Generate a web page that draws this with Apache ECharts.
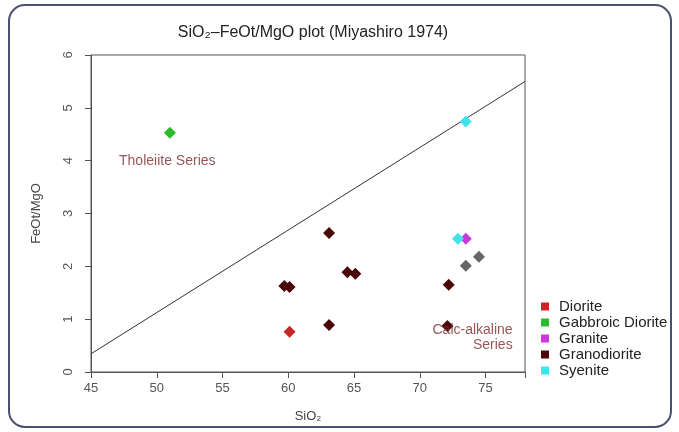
<!DOCTYPE html>
<html>
<head>
<meta charset="utf-8">
<script src="https://cdn.jsdelivr.net/npm/echarts@6/dist/echarts.min.js"></script>
<style>
  html, body { margin: 0; padding: 0; background: #fff; }
  #chart { width: 679px; height: 432px; }
</style>
</head>
<body>
<div id="chart"></div>
<script>
// SiO2 / FeOt/MgO pairs per rock type
const diorite = [[60.1, 0.76]]
const gabbroicDiorite = [[51.0, 4.53]]
const granite = [[73.5, 2.52]]
const granodiorite = [
  [63.1, 2.63], [64.5, 1.89], [65.1, 1.86], [59.7, 1.63], [60.1, 1.61],
  [63.1, 0.89], [72.2, 1.65], [72.1, 0.87]
]
const syenite = [[73.5, 4.74], [72.9, 2.52]]
const unclassified = [[73.5, 2.01], [74.5, 2.18]]

// Miyashiro (1974) boundary line end points
const boundary = [[45, 0.344], [78, 5.499]]

const xTicks = [45, 50, 55, 60, 65, 70, 75]
const yTicks = [0, 1, 2, 3, 4, 5, 6]

const seriesNames = ['Diorite', 'Gabbroic Diorite', 'Granite', 'Granodiorite', 'Syenite']
const seriesData = [diorite, gabbroicDiorite, granite, granodiorite, syenite]
const seriesColors = ['#c62828', '#2dbb2d', '#c83ad8', '#4a0707', '#3fe3ea']

const labelColor = '#7e2a2a'
const font = 'Liberation Sans, Arial, sans-serif'

const chart = echarts.init(document.getElementById('chart'))

const series = seriesNames.map((name, i) => ({
  name,
  type: 'scatter',
  symbol: 'diamond',
  symbolSize: 12,
  itemStyle: { color: seriesColors[i], opacity: 1 },
  data: seriesData[i],
  z: 3
}))

series.push({
  name: 'Unclassified',
  type: 'scatter',
  symbol: 'diamond',
  symbolSize: 12,
  itemStyle: { color: '#666666', opacity: 1 },
  data: unclassified,
  z: 3
})

series.push({
  name: 'Boundary',
  type: 'line',
  data: boundary,
  symbol: 'none',
  lineStyle: { color: '#333', width: 1 },
  silent: true,
  z: 2
})

series.push({
  name: 'Labels',
  type: 'scatter',
  symbolSize: 0,
  silent: true,
  data: [
    { value: [50.8, 4.0], label: { formatter: 'Tholeiite Series', align: 'center' } },
    { value: [77.06, 0.65], label: { formatter: 'Calc-alkaline\nSeries', align: 'right', lineHeight: 15 } }
  ],
  label: {
    show: true,
    position: 'inside',
    color: labelColor,
    fontSize: 14,
    fontFamily: font
  },
  z: 4
})

const border = {
  type: 'rect',
  shape: { x: 9, y: 5, width: 662, height: 422, r: 16 },
  style: { fill: 'none', stroke: '#4d4f70', lineWidth: 2 },
  silent: true,
  z: 0
}

chart.setOption({
  animation: false,
  backgroundColor: '#fff',
  textStyle: { fontFamily: font },
  title: {
    text: 'SiO₂–FeOt/MgO plot (Miyashiro 1974)',
    left: 308,
    top: 20,
    textAlign: 'center',
    textStyle: { fontSize: 16, fontWeight: 'normal', color: '#222', fontFamily: font }
  },
  graphic: [border],
  legend: {
    data: seriesNames,
    orient: 'vertical',
    left: 536,
    top: 294,
    icon: 'rect',
    itemWidth: 8,
    itemHeight: 8,
    itemGap: 1,
    textStyle: { fontSize: 15, color: '#222', fontFamily: font, padding: [0, 0, 0, 5] }
  },
  grid: { left: 91, top: 55, right: 154, bottom: 60 },
  xAxis: {
    type: 'value',
    min: 45,
    max: 78,
    interval: 5,
    name: 'SiO₂',
    nameLocation: 'middle',
    nameGap: 38,
    nameTextStyle: { fontSize: 13, color: '#444' },
    axisLine: { show: true, lineStyle: { color: '#555' } },
    axisTick: { show: true, length: 6, lineStyle: { color: '#555' } },
    axisLabel: {
      fontSize: 13, color: '#555', margin: 10,
      formatter: v => xTicks.includes(v) ? v : ''
    },
    splitLine: { show: false }
  },
  yAxis: {
    type: 'value',
    min: 0,
    max: 6,
    interval: 1,
    name: 'FeOt/MgO',
    nameLocation: 'middle',
    nameGap: 48,
    nameTextStyle: { fontSize: 13, color: '#444' },
    axisLine: { show: true, lineStyle: { color: '#555' } },
    axisTick: { show: true, length: 6, lineStyle: { color: '#555' } },
    axisLabel: {
      fontSize: 13, color: '#555', rotate: 90, margin: 16,
      formatter: v => yTicks.includes(v) ? v : ''
    },
    splitLine: { show: false }
  },
  series
})

// plot box (R draws a full frame around the plot region)
const tl = chart.convertToPixel({ gridIndex: 0 }, [45, 6])
const br = chart.convertToPixel({ gridIndex: 0 }, [78, 0])
chart.setOption({
  graphic: [border, {
    type: 'rect',
    shape: { x: tl[0], y: tl[1], width: br[0] - tl[0], height: br[1] - tl[1] },
    style: { fill: 'none', stroke: '#555', lineWidth: 1 },
    silent: true,
    z: 1
  }]
})
</script>
</body>
</html>
